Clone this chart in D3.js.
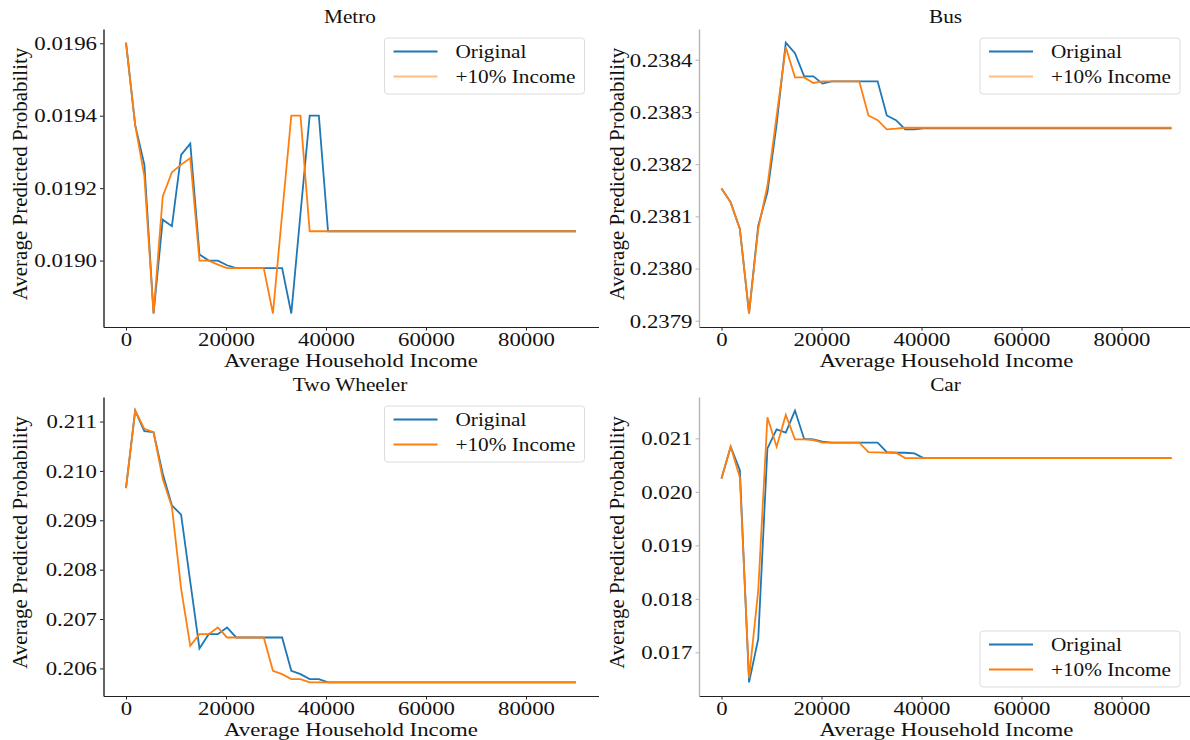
<!DOCTYPE html>
<html>
<head>
<meta charset="utf-8">
<script src="https://cdn.jsdelivr.net/npm/d3@7"></script>
<style>
  html, body { margin: 0; padding: 0; background: #fff; }
  svg text { font-family: "Liberation Serif", "Times New Roman", serif; fill: #111; }
</style>
</head>
<body>
<svg id="chart" width="1190" height="740"></svg>
<script>
// ---------- DATA ----------
const income = [0, 1837, 3673, 5510, 7347, 9184, 11020, 12857, 14694, 16531, 18367, 20204,
  22041, 23878, 25714, 27551, 29388, 31224, 33061, 34898, 36735, 38571, 40408, 90000];

const metroOriginal = [0.019602, 0.019374, 0.019265, 0.018854, 0.019113, 0.019095, 0.019292, 0.019323,
  0.019017, 0.019000, 0.019000, 0.018987, 0.018979, 0.018979, 0.018979, 0.018979, 0.018979, 0.018979,
  0.018854, 0.019130, 0.019400, 0.019400, 0.019081, 0.019081];
const metroPlus10 = [0.019602, 0.019374, 0.019233, 0.018854, 0.019177, 0.019244, 0.019265, 0.019283,
  0.019000, 0.019000, 0.018989, 0.018979, 0.018979, 0.018979, 0.018979, 0.018979, 0.018854, 0.019128,
  0.019400, 0.019400, 0.019081, 0.019081, 0.019081, 0.019081];

const busOriginal = [0.2381535, 0.2381268, 0.2380760, 0.2379140, 0.2380823, 0.2381459, 0.2382761, 0.2384330,
  0.2384127, 0.2383682, 0.2383682, 0.2383543, 0.2383587, 0.2383587, 0.2383587, 0.2383587, 0.2383587, 0.2383587,
  0.2382933, 0.2382844, 0.2382666, 0.2382666, 0.2382685, 0.2382685];
const busPlus10 = [0.2381535, 0.2381268, 0.2380760, 0.2379140, 0.2380760, 0.2381586, 0.2382920, 0.2384241,
  0.2383663, 0.2383663, 0.2383555, 0.2383587, 0.2383587, 0.2383587, 0.2383587, 0.2383587, 0.2382933, 0.2382844,
  0.2382666, 0.2382679, 0.2382698, 0.2382698, 0.2382698, 0.2382698];

const twoWheelerOriginal = [0.209652, 0.211222, 0.210805, 0.210784, 0.209942, 0.209302, 0.209113, 0.207752,
  0.206404, 0.206694, 0.206694, 0.206829, 0.206627, 0.206627, 0.206627, 0.206627, 0.206627, 0.206627,
  0.205953, 0.205885, 0.205784, 0.205784, 0.205717, 0.205717];
const twoWheelerPlus10 = [0.209652, 0.211222, 0.210852, 0.210784, 0.209841, 0.209268, 0.207617, 0.206458,
  0.206694, 0.206694, 0.206829, 0.206627, 0.206627, 0.206627, 0.206627, 0.206627, 0.205953, 0.205885,
  0.205784, 0.205784, 0.205717, 0.205717, 0.205717, 0.205717];

const carOriginal = [0.020250, 0.020844, 0.020406, 0.016438, 0.017250, 0.020813, 0.021169, 0.021106,
  0.021519, 0.020988, 0.020981, 0.020938, 0.020919, 0.020919, 0.020919, 0.020919, 0.020919, 0.020919,
  0.020744, 0.020731, 0.020731, 0.020719, 0.020631, 0.020631];
const carPlus10 = [0.020250, 0.020844, 0.020269, 0.016519, 0.018156, 0.021394, 0.020844, 0.021438,
  0.020981, 0.020981, 0.020969, 0.020919, 0.020919, 0.020919, 0.020919, 0.020919, 0.020744, 0.020738,
  0.020731, 0.020731, 0.020631, 0.020631, 0.020631, 0.020631];

const xTicks = [0, 20000, 40000, 60000, 80000];
const metroTicks = [0.0190, 0.0192, 0.0194, 0.0196];
const busTicks = [0.2379, 0.2380, 0.2381, 0.2382, 0.2383, 0.2384];
const twoWheelerTicks = [0.206, 0.207, 0.208, 0.209, 0.210, 0.211];
const carTicks = [0.017, 0.018, 0.019, 0.020, 0.021];

const panelTitles = ["Metro", "Bus", "Two Wheeler", "Car"];
const seriesNames = ["Original", "+10% Income"];
const xLabel = "Average Household Income";
const yLabel = "Average Predicted Probability";

// ---------- LAYOUT ----------
const svg = d3.select("#chart");
const colBlue = "#1f77b4", colOrange = "#ff7f0e";
const SX = 1.2; // horizontal stretch of the reference's lettering

const panels = [
  { title: panelTitles[0], a: metroOriginal, b: metroPlus10, ticks: metroTicks, fmt: ".4f",
    x0: 103.5, x1: 598.5, y0: 29, y1: 327, legend: "top", legOrange: "#ffbb80", spine: "#222", ylabX: 20 },
  { title: panelTitles[1], a: busOriginal, b: busPlus10, ticks: busTicks, fmt: ".4f",
    x0: 699, x1: 1194, y0: 29, y1: 327, legend: "top", legOrange: "#ffbb80", spine: "#b5b5b5", ylabX: 617 },
  { title: panelTitles[2], a: twoWheelerOriginal, b: twoWheelerPlus10, ticks: twoWheelerTicks, fmt: ".3f",
    x0: 103.5, x1: 598.5, y0: 397, y1: 696, legend: "top", legOrange: colOrange, spine: "#222", ylabX: 20 },
  { title: panelTitles[3], a: carOriginal, b: carPlus10, ticks: carTicks, fmt: ".3f",
    x0: 699, x1: 1194, y0: 397, y1: 696, legend: "bottom", legOrange: colOrange, spine: "#b5b5b5", ylabX: 617 }
];

const xMin = d3.min(income), xMax = d3.max(income);
const xPad = (xMax - xMin) * 0.05;

function stretchedText(parent, cx, cy, size, str, sx) {
  return parent.append("text")
    .attr("transform", `translate(${cx},${cy}) scale(${sx},1)`)
    .attr("text-anchor", "middle").attr("font-size", size).text(str);
}

panels.forEach(p => {
  const g = svg.append("g");
  const x = d3.scaleLinear().domain([xMin - xPad, xMax + xPad]).range([p.x0, p.x1]);
  const all = p.a.concat(p.b);
  const lo = d3.min(all), hi = d3.max(all), pad = (hi - lo) * 0.05;
  const y = d3.scaleLinear().domain([lo - pad, hi + pad]).range([p.y1, p.y0]);

  // x axis
  const xa = g.append("g").attr("transform", `translate(0,${p.y1})`)
    .call(d3.axisBottom(x).tickValues(xTicks).tickFormat(d3.format("d")).tickSize(3.5).tickSizeOuter(0).tickPadding(3));
  xa.select(".domain").attr("stroke", "#222").attr("stroke-width", 1.2);
  xa.selectAll(".tick line").attr("stroke", "#222");
  xa.selectAll("text").attr("font-size", 19).attr("y", 0).attr("dy", 0)
    .attr("transform", `translate(0,18.5) scale(${SX},1)`).style("fill", "#111");

  // y axis
  const ya = g.append("g").attr("transform", `translate(${p.x0},0)`)
    .call(d3.axisLeft(y).tickValues(p.ticks).tickFormat(d3.format(p.fmt)).tickSize(3.5).tickSizeOuter(0).tickPadding(3));
  ya.select(".domain").attr("stroke", p.spine).attr("stroke-width", 1.4);
  ya.selectAll(".tick line").attr("stroke", p.spine);
  ya.selectAll("text").attr("font-size", 19).attr("x", 0).attr("dy", "0.33em")
    .attr("transform", `translate(-6.5,0) scale(${SX},1)`).style("fill", "#111");

  // lines
  const line = d3.line().x((d, i) => x(income[i])).y(d => y(d));
  g.append("path").datum(p.a).attr("d", line).attr("fill", "none").attr("stroke", colBlue).attr("stroke-width", 1.8);
  g.append("path").datum(p.b).attr("d", line).attr("fill", "none").attr("stroke", colOrange).attr("stroke-width", 1.8);

  // title
  stretchedText(g, (p.x0 + p.x1) / 2 - 1, p.y0 - 6, 19, p.title, 1.12);
  // x label
  stretchedText(g, (p.x0 + p.x1) / 2, p.y1 + 40, 19, xLabel, SX);
  // y label
  g.append("text").attr("transform", `translate(${p.ylabX + 7},${(p.y0 + p.y1) / 2 - 4}) rotate(-90)`)
    .attr("text-anchor", "middle").attr("font-size", 21).text(yLabel);

  // legend
  const lw = 200, lh = 56;
  const lx = p.x1 - 14 - lw;
  const ly = p.legend === "top" ? p.y0 + 9 : p.y1 - 9 - lh;
  const lg = g.append("g").attr("transform", `translate(${lx},${ly})`);
  lg.append("rect").attr("width", lw).attr("height", lh).attr("rx", 3)
    .attr("fill", "#fff").attr("fill-opacity", 0.85).attr("stroke", "#dcdcdc").attr("stroke-width", 1);
  const legCols = [colBlue, p.legOrange];
  seriesNames.forEach((name, k) => {
    const ry = 13.5 + k * 25;
    lg.append("line").attr("x1", 9).attr("x2", 53).attr("y1", ry).attr("y2", ry)
      .attr("stroke", legCols[k]).attr("stroke-width", 1.8);
    lg.append("text").attr("transform", `translate(71,${ry}) scale(1.12,1)`)
      .attr("dy", "0.33em").attr("font-size", 19).text(name);
  });
});
</script>
</body>
</html>
